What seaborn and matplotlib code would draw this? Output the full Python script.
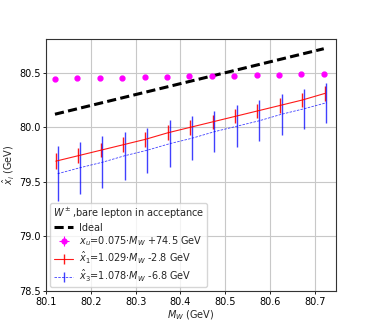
import numpy as np
import pandas as pd
import matplotlib
matplotlib.use("Agg")
import matplotlib.pyplot as plt
import seaborn as sns

# W mass points (GeV)
mw = [80.12, 80.17, 80.22, 80.27, 80.32, 80.37, 80.42, 80.47, 80.52, 80.57, 80.62, 80.67, 80.72]

# x_u estimator
xu = [80.445, 80.448, 80.452, 80.455, 80.459, 80.463, 80.467, 80.470, 80.474, 80.478, 80.482, 80.486, 80.490]
xu_err = [0.004] * 13

# x1 hat estimator
x1 = [79.69, 79.74, 79.79, 79.84, 79.89, 79.95, 80.00, 80.05, 80.10, 80.15, 80.20, 80.25, 80.31]
x1_err = [0.072, 0.069, 0.066, 0.069, 0.066, 0.069, 0.066, 0.065, 0.064, 0.064, 0.065, 0.065, 0.067]

# x3 hat estimator
x3 = [79.575, 79.63, 79.68, 79.74, 79.79, 79.85, 79.90, 79.96, 80.01, 80.06, 80.12, 80.17, 80.225]
x3_err = [0.25, 0.24, 0.24, 0.22, 0.206, 0.213, 0.20, 0.19, 0.19, 0.186, 0.186, 0.183, 0.183]

sns.set_style("ticks")
plt.rcParams["font.size"] = 7
fig, ax = plt.subplots(figsize=(3.74, 3.27), dpi=100)
fig.subplots_adjust(left=0.123, right=0.898, top=0.881, bottom=0.110)

ideal = pd.DataFrame({"mw": mw, "ideal": mw})
sns.lineplot(data=ideal, x="mw", y="ideal", ax=ax, color="black", linestyle=(0, (3, 1.4)),
             linewidth=2.2, label="Ideal")

ax.errorbar(mw, xu, yerr=xu_err, xerr=0.003, fmt="o", color="magenta", markersize=3.5,
            ecolor="magenta", elinewidth=0.8,
            label=r"$x_u$=0.075$\cdot M_W$ +74.5 GeV")
ax.errorbar(np.array(mw) + 0.002, x1, yerr=x1_err, fmt="-", color="red", linewidth=0.8,
            elinewidth=1.0, alpha=0.9, label=r"$\hat{x}_1$=1.029$\cdot M_W$ -2.8 GeV")
ax.errorbar(np.array(mw) + 0.006, x3, yerr=x3_err, fmt="--", color="blue", linewidth=0.6,
            elinewidth=1.0, alpha=0.75, dashes=(3, 1.5),
            label=r"$\hat{x}_3$=1.078$\cdot M_W$ -6.8 GeV")

ax.set_xlim(80.1, 80.747)
ax.set_ylim(78.5, 80.81)
ax.set_xticks([80.1, 80.2, 80.3, 80.4, 80.5, 80.6, 80.7])
ax.set_yticks([78.5, 79.0, 79.5, 80.0, 80.5])
ax.grid(True, color="#c8c8c8", linewidth=0.8)
ax.set_xlabel(r"$M_W$ (GeV)", fontsize=7, labelpad=1)
ax.set_ylabel(r"$\hat{x}_i$ (GeV)", fontsize=7, labelpad=2)
for s in ax.spines.values():
    s.set_color("#333333")
    s.set_linewidth(0.8)
ax.tick_params(colors="black", labelsize=7, length=2.5, width=0.6, pad=1.5)

ax.legend(loc="lower left", title=r"$W^\pm$,bare lepton in acceptance", fontsize=7,
          title_fontsize=7, frameon=True, framealpha=0.8, borderaxespad=0.4,
          borderpad=0.3, handlelength=2.0, labelspacing=0.2, handletextpad=0.6)

fig.savefig("out.png", dpi=100)
